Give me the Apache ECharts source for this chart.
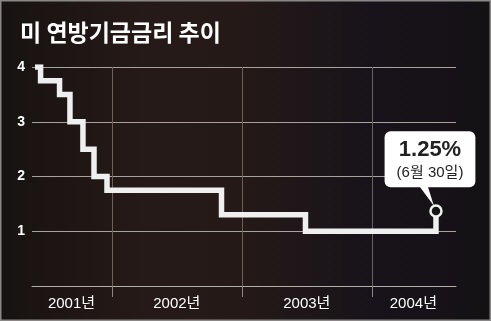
<!DOCTYPE html>
<html><head><meta charset="utf-8">
<script src="https://cdn.jsdelivr.net/npm/echarts@6/dist/echarts.min.js"></script>
<style>html,body{margin:0;padding:0;background:#1b1513}#c{width:491px;height:321px}</style>
</head><body><div id="c"></div>
<script>
// Data (x = fractional year, y = rate %)
const changeDates = [2001.409, 2001.452, 2001.598, 2001.678, 2001.778, 2001.863, 2001.963, 2002.844, 2003.49, 2004.494];
const rates       = [4,        3.75,     3.5,      3,        2.5,      2,        1.75,     1.3,      1.0,     1.37];
const yearTicks = [2002, 2003, 2004];
const yearLabelPos = [2001.69, 2002.5, 2003.5, 2004.32];
const yearLabels = ['2001년', '2002년', '2003년', '2004년'];
const yTicks = [1, 2, 3, 4];
const titleText = '미 연방기금금리 추이';
const noteValue = '1.25%';
const noteDate = '(6월 30일)';

const FONT = '"Liberation Sans", "Noto Sans CJK KR", sans-serif';
const chart = echarts.init(document.getElementById('c'), null, {renderer: 'canvas'});

const seriesData = changeDates.map((d, i) => {
  if (i === changeDates.length - 1) {
    return {
      value: [d, rates[i]],
      symbol: 'circle', symbolSize: 11,
      itemStyle: {color: '#151515', borderColor: '#f2f2f2', borderWidth: 2.5},
      label: {
        show: true, position: 'top', distance: 17, offset: [-6, 0],
        formatter: '{a|' + noteValue + '}\n{b|' + noteDate + '}',
        backgroundColor: '#ffffff', borderRadius: 6, padding: [5, 12, 4, 12],
        rich: {
          a: {fontSize: 22, fontWeight: 'bold', color: '#222', lineHeight: 27, fontFamily: FONT, align: 'center'},
          b: {fontSize: 15, color: '#222', lineHeight: 20, fontFamily: FONT, align: 'center'}
        }
      }
    };
  }
  return {value: [d, rates[i]]};
});

chart.setOption({
  animation: false,
  backgroundColor: {
    type: 'linear', x: 0, y: 0, x2: 1, y2: 0,
    colorStops: [
      {offset: 0, color: '#171211'}, {offset: 0.3, color: '#261a18'},
      {offset: 0.5, color: '#241917'}, {offset: 0.75, color: '#18131a'}, {offset: 1, color: '#141115'}
    ]
  },
  title: {
    text: titleText, left: 15, top: 16,
    textStyle: {color: '#ffffff', fontSize: 23, fontWeight: 'bold', fontFamily: '"Noto Sans CJK KR", sans-serif'}
  },
  grid: {left: 32, right: 35, top: 67, bottom: 35, containLabel: false},
  xAxis: {
    type: 'value', min: 2001.386, max: 2004.648,
    axisLine: {show: true, lineStyle: {color: '#b3aeaa', width: 1}},
    axisTick: {show: true, customValues: yearTicks, length: 11, lineStyle: {color: '#8f8581', width: 1}},
    splitLine: {show: true, lineStyle: {color: '#6f5f5b', width: 1}},
    axisLabel: {
      show: true, customValues: yearLabelPos, margin: 10,
      color: '#ffffff', fontSize: 15, fontFamily: FONT,
      formatter: v => yearLabels[yearLabelPos.indexOf(v)]
    }
  },
  yAxis: {
    type: 'value', min: 0, max: 4, interval: 1,
    axisLine: {show: false}, axisTick: {show: false},
    splitLine: {show: true, lineStyle: {color: '#a8a29f', width: 1}},
    axisLabel: {
      color: '#ffffff', fontSize: 14, fontWeight: 'bold', fontFamily: FONT, margin: 7,
      formatter: v => (yTicks.indexOf(v) >= 0 ? String(v) : '')
    }
  },
  series: [{
    type: 'line', step: 'end', symbol: 'none',
    lineStyle: {color: '#efefef', width: 5.5, join: 'miter', cap: 'butt'},
    data: seriesData, z: 3
  }]
});

// pointer wedge from label box to the marker, positioned via the library's scales
const last = chart.convertToPixel({gridIndex: 0}, [changeDates[changeDates.length - 1], rates[rates.length - 1]]);
chart.setOption({
  graphic: [
    {type: 'polygon', z: 100, silent: true,
     shape: {points: [[last[0] - 16, last[1] - 24], [last[0] - 8, last[1] - 24], [last[0] - 2, last[1] - 5]]},
     style: {fill: '#ffffff'}},
    {type: 'rect', z: 200, silent: true, shape: {x: 0.75, y: 0.75, width: 489.5, height: 319.5},
     style: {fill: 'none', stroke: '#8a8886', lineWidth: 1.5}}
  ]
});
</script></body></html>
